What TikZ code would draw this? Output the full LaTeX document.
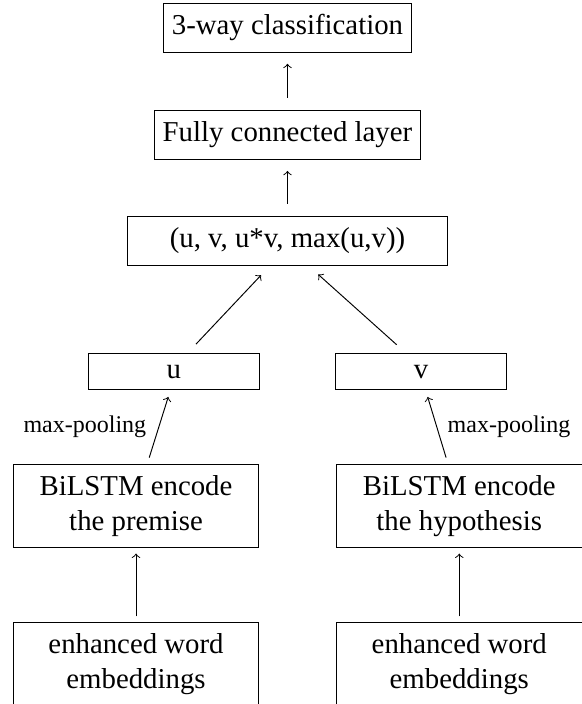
\documentclass[tikz,border=0pt]{standalone}
\usepackage{fontspec}
\setmainfont{Liberation Serif}
\usetikzlibrary{positioning}

\begin{document}
\begin{tikzpicture}[
    box/.style={draw, rectangle, font=\fontsize{12}{14.5}\selectfont, align=center, inner ysep=4.7pt},
    poolname/.style={font=\fontsize{10}{12}\selectfont},
    uparrow/.style={->, shorten <=5.1pt, shorten >=4.6pt},
    shortarrow/.style={->, shorten <=2.3pt, shorten >=2.3pt}
  ]
        \useasboundingbox (0,0) rectangle (8.523,-10.31);
        % Top of the network
        \node[box] (cls) at (4.21,-0.406) {3-way classification};
        \node[box] (fc) at (4.21,-1.977) {Fully connected layer};
        \node[box, minimum width=4.7cm] (feat) at (4.21,-3.529) {(u, v, u*v, max(u,v))};

        % Sentence vectors
        \node[box, minimum width=2.5cm, minimum height=0.49cm] (u) at (2.545,-5.443) {u};
        \node[box, minimum width=2.5cm, minimum height=0.49cm] (v) at (6.168,-5.443) {v};

        % Encoders for the premise and the hypothesis
        \node[box, minimum width=3.6cm] (encP) at (1.992,-7.408) {BiLSTM encode\\the premise};
        \node[box, minimum width=3.6cm] (encH) at (6.726,-7.408) {BiLSTM encode\\the hypothesis};
        \node[box, minimum width=3.6cm] (embP) at (1.992,-9.727) {enhanced word\\embeddings};
        \node[box, minimum width=3.6cm] (embH) at (6.726,-9.727) {enhanced word\\embeddings};

        \draw[uparrow] (fc) -- (cls);
        \draw[uparrow] (feat) -- (fc);
        \draw[->] ([xshift=9.25pt, yshift=3.75pt]u.north) -- ([xshift=-11pt, yshift=-3.9pt]feat.south);
        \draw[->] ([xshift=-10.2pt, yshift=3.5pt]v.north) -- ([xshift=12.8pt, yshift=-3.6pt]feat.south);
        \draw[->] ([xshift=5.5pt, yshift=2.5pt]encP.north) -- node[poolname, left=1.7pt] {max-pooling} ([xshift=-2.3pt, yshift=-2.8pt]u.south);
        \draw[->] ([xshift=-5.5pt, yshift=2.5pt]encH.north) -- node[poolname, right=1pt] {max-pooling} ([xshift=2.7pt, yshift=-2.8pt]v.south);
        \draw[shortarrow] (embP) -- (encP);
        \draw[shortarrow] (embH) -- (encH);
    \end{tikzpicture}
\end{document}
